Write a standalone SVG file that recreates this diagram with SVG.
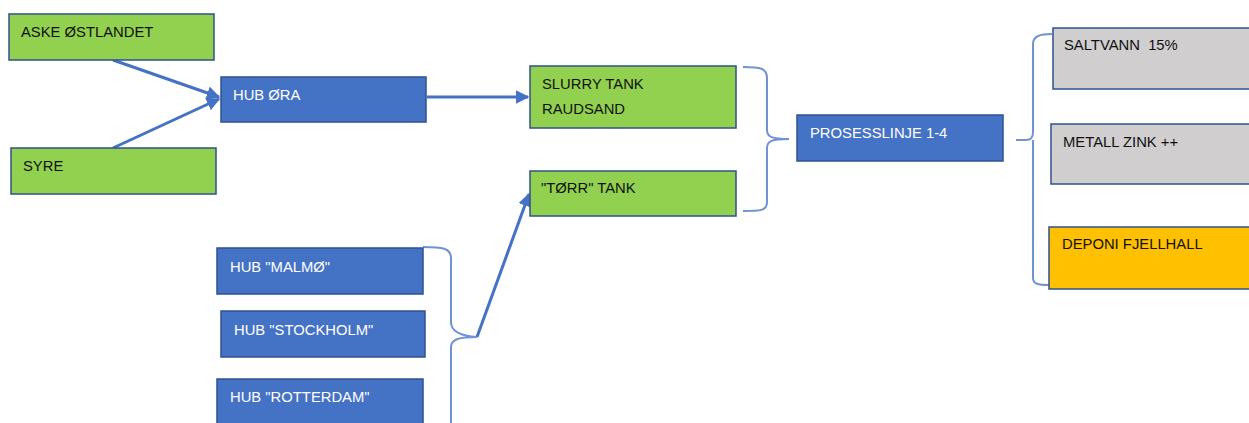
<svg xmlns="http://www.w3.org/2000/svg" width="1249" height="423" viewBox="0 0 1249 423">
<style>
.box{stroke:#2F528F;stroke-width:1.5}
.g{fill:#92D050}
.b{fill:#4472C4}
.gr{fill:#D0CECE}
.y{fill:#FFC000}
text{font-family:"Liberation Sans",Arial,sans-serif;font-size:14.8px}
.dk{fill:#111}
.wt{fill:#fff}
.con{stroke:#4472C4;stroke-width:3;fill:none}
.br{stroke:#6F93D3;stroke-width:2;fill:none}
</style>
<defs>
<marker id="ah" viewBox="0 0 10 10" refX="9" refY="5" markerWidth="4.5" markerHeight="4.5" orient="auto" markerUnits="strokeWidth">
<path d="M0,0 L10,5 L0,10 z" fill="#4472C4"/>
</marker>
</defs>
<rect width="1249" height="423" fill="#fff"/>
<g id="connectors">
<line class="con" x1="113" y1="60" x2="219" y2="97" marker-end="url(#ah)"/>
<line class="con" x1="113" y1="148" x2="219" y2="99" marker-end="url(#ah)"/>
<line class="con" x1="427" y1="97" x2="528" y2="97" stroke-width="2.5" marker-end="url(#ah)"/>
<line class="con" x1="477" y1="337" x2="529" y2="194" stroke-width="2.5" marker-end="url(#ah)"/>
<path class="br" d="M743,67 C760,67 767,68 767,78 L767,130 C767,137 772,139 789,139 C772,139 767,141 767,148 L767,202 C767,211 760,211 743,211"/>
<path class="br" d="M423,247 C442,247 451,248 451,258 L451,322 C451,331 460,336 477,337 C460,337 451,339 451,347 L451,423"/>
<path class="br" d="M1016,140 L1026,140 C1031,140 1033,138 1033,132 L1033,44 C1033,36 1040,34 1052,34 M1033,140 L1033,278 C1033,284 1038,285 1049,285"/>
</g>
<g id="aske"><rect class="box g" x="9" y="14" width="205" height="46"/><text class="dk" x="21" y="37">ASKE ØSTLANDET</text></g>
<g id="syre"><rect class="box g" x="11" y="148" width="205" height="46"/><text class="dk" x="23" y="171">SYRE</text></g>
<g id="hub-ora"><rect class="box b" x="221" y="77" width="205" height="45"/><text class="wt" x="233" y="100">HUB ØRA</text></g>
<g id="slurry"><rect class="box g" x="530" y="66" width="206" height="62"/><text class="dk" x="542" y="89">SLURRY TANK</text><text class="dk" x="542" y="114">RAUDSAND</text></g>
<g id="torr"><rect class="box g" x="530" y="171" width="206" height="45"/><text class="dk" x="541" y="193">"TØRR" TANK</text></g>
<g id="prosess"><rect class="box b" x="797" y="115" width="206" height="46"/><text class="wt" x="810" y="138">PROSESSLINJE 1-4</text></g>
<g id="saltvann"><rect class="box gr" x="1053" y="28" width="210" height="61"/><text class="dk" x="1064" y="50">SALTVANN&#160; 15%</text></g>
<g id="metall"><rect class="box gr" x="1051" y="124" width="210" height="60"/><text class="dk" x="1063" y="147">METALL ZINK ++</text></g>
<g id="deponi"><rect class="box y" x="1049" y="227" width="210" height="62"/><text class="dk" x="1062" y="249">DEPONI FJELLHALL</text></g>
<g id="malmo"><rect class="box b" x="217" y="248" width="206" height="46"/><text class="wt" x="230" y="272">HUB "MALMØ"</text></g>
<g id="stockholm"><rect class="box b" x="221" y="311" width="204" height="46"/><text class="wt" x="234" y="335">HUB "STOCKHOLM"</text></g>
<g id="rotterdam"><rect class="box b" x="217" y="379" width="206" height="60"/><text class="wt" x="230" y="402">HUB "ROTTERDAM"</text></g>
</svg>
